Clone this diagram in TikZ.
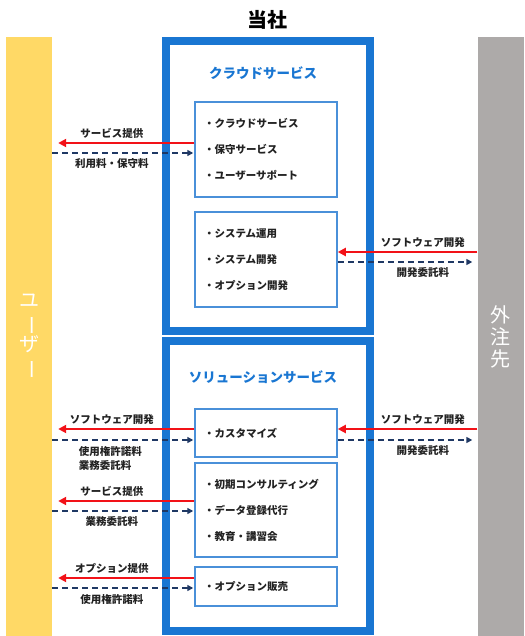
\documentclass[tikz,border=0pt]{standalone}
\usepackage{fontspec}
\usepackage{graphicx}
\setmainfont{Noto Sans CJK JP}
\usetikzlibrary{arrows.meta}
\definecolor{frameblue}{HTML}{1976D2}
\definecolor{boxblue}{HTML}{4A90D9}
\definecolor{useryellow}{HTML}{FFD966}
\definecolor{vendorgray}{HTML}{ADAAA9}
\definecolor{payblue}{HTML}{1F3864}
\definecolor{givered}{HTML}{F21218}
\definecolor{labelblack}{HTML}{222222}
\tikzset{
  bar/.style={fill=#1, minimum width=46pt, minimum height=599pt, inner sep=0pt,
    text=white, align=center, font=\fontsize{20}{22}\selectfont},
  frame/.style={draw=frameblue, line width=8pt, minimum width=204pt, minimum height=290pt},
  heading/.style={text=frameblue, font=\bfseries\fontsize{13.5}{16}\selectfont},
  itembox/.style={draw=boxblue, line width=1.5pt, inner xsep=9pt, text width=124pt,
    align=left, text=labelblack, font=\bfseries\fontsize{10.5}{26}\selectfont},
  give/.style={givered, line width=2pt, -{Triangle[length=8pt,width=8pt]}},
  pay/.style={payblue, line width=2pt, dash pattern=on 6pt off 4pt,
    -{Triangle[length=6pt,width=6pt]}},
  lbl/.style={text=labelblack, inner sep=1.5pt, font=\bfseries\fontsize{10.5}{14}\selectfont},
  up/.style={above=2pt},
  down/.style={below=3.5pt}
}
\begin{document}
\begin{tikzpicture}[x=1pt, y=-1pt]
    \useasboundingbox (0,0) rectangle (524,636);
    %\draw [help lines, step=20] (0,0) grid (524,636);

    % parties
    \node [bar=useryellow] (user) at (29,336.5)
        {ユ\\\rotatebox[origin=c]{-90}{ー}\\ザ\\\rotatebox[origin=c]{-90}{ー}};
    \node [bar=vendorgray] (vendor) at (500.5,336.5) {外\\注\\先};
    \node [font=\bfseries\fontsize{20}{24}\selectfont] (company) at (267,20) {当社};

    % company frames
    \node [frame] (cloud) at (268,186) {};
    \node [frame] (solution) at (268,486) {};
    \node [heading] (cloudTitle) at (263,73) {クラウドサービス};
    \node [heading] (solutionTitle) at (263,377) {ソリューションサービス};

    \node [itembox, minimum height=95pt] (cloudA) at (266,149.5)
        {・クラウドサービス\\・保守サービス\\・ユーザーサポート};
    \node [itembox, minimum height=95pt] (cloudB) at (266,259.5)
        {・システム運用\\・システム開発\\・オプション開発};
    \node [itembox, minimum height=48pt] (custom) at (266,433) {・カスタマイズ};
    \node [itembox, minimum height=94pt] (consult) at (266,510)
        {・初期コンサルティング\\・データ登録代行\\・教育・講習会};
    \node [itembox, minimum height=39pt] (optsale) at (266,586.5) {・オプション販売};

    % flows
    \coordinate (g1) at ([yshift=6.5pt]cloudA.west);
    \coordinate (p1) at ([yshift=-3.5pt]cloudA.west);
    \draw [give, shorten >=6pt] (g1) -- (g1 -| user.east)
        node [lbl, pos=0.58, up] {サービス提供};
    \draw [pay, shorten >=1pt] (p1 -| user.east) -- (p1)
        node [lbl, pos=0.42, down] {利用料・保守料};

    \coordinate (g2) at ([yshift=7.5pt]cloudB.east);
    \coordinate (p2) at ([yshift=-2.5pt]cloudB.east);
    \draw [give] (g2 -| vendor.west) -- (g2)
        node [lbl, pos=0.39, up] {ソフトウェア開発};
    \draw [pay, shorten >=5pt] (p2) -- (p2 -| vendor.west)
        node [lbl, pos=0.61, down] {開発委託料};

    \coordinate (g3) at ([yshift=4pt]custom.west);
    \coordinate (p3) at ([yshift=-7pt]custom.west);
    \draw [give, shorten >=6pt] (g3) -- (g3 -| user.east)
        node [lbl, pos=0.58, up] {ソフトウェア開発};
    \draw [pay, shorten >=1pt] (p3 -| user.east) -- (p3)
        node [lbl, pos=0.41, down, align=left] {使用権許諾料\\業務委託料};

    \coordinate (g4) at ([yshift=4pt]custom.east);
    \coordinate (p4) at ([yshift=-7pt]custom.east);
    \draw [give] (g4 -| vendor.west) -- (g4)
        node [lbl, pos=0.39, up] {ソフトウェア開発};
    \draw [pay, shorten >=5pt] (p4) -- (p4 -| vendor.west)
        node [lbl, pos=0.61, down] {開発委託料};

    \coordinate (g5) at ([yshift=9pt]consult.west);
    \coordinate (p5) at ([yshift=-1pt]consult.west);
    \draw [give, shorten >=6pt] (g5) -- (g5 -| user.east)
        node [lbl, pos=0.58, up] {サービス提供};
    \draw [pay, shorten >=1pt] (p5 -| user.east) -- (p5)
        node [lbl, pos=0.42, down] {業務委託料};

    \coordinate (g6) at ([yshift=8.5pt]optsale.west);
    \coordinate (p6) at ([yshift=-1.5pt]optsale.west);
    \draw [give, shorten >=6pt] (g6) -- (g6 -| user.east)
        node [lbl, pos=0.58, up] {オプション提供};
    \draw [pay, shorten >=1pt] (p6 -| user.east) -- (p6)
        node [lbl, pos=0.42, down] {使用権許諾料};
\end{tikzpicture}
\end{document}
